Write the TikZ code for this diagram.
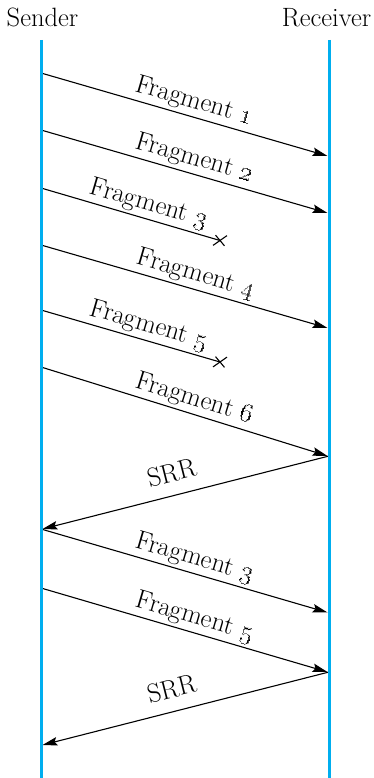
\RequirePackage{fix-cm}
\documentclass[tikz,border=0pt]{standalone}
\usetikzlibrary{arrows.meta}
\definecolor{lifeblue}{RGB}{0,174,239}
\newcommand{\osn}[1]{\oldstylenums{#1}}
\begin{document}
\begin{tikzpicture}[x=1pt,y=-1pt,
  font=\fontsize{26.5}{31}\selectfont,
  lifeline/.style={draw=lifeblue,line width=3pt},
  msg/.style={draw=black,line width=1.1pt,-{Stealth[length=15pt,width=8.5pt,inset=2.5pt]}},
  lostmsg/.style={draw=black,line width=1.1pt},
  fraglabel/.style={sloped,above=2.6pt,inner sep=0pt},
  srrlabel/.style={sloped,above=12.5pt,inner sep=0pt},
  crossmark/.style={draw=black,line width=1.1pt}]
\useasboundingbox (0,0) rectangle (374,778);

% station names
\node[anchor=base] (snd) at (42.5,27) {Sender};
\node[anchor=base] (rcv) at (326.5,27) {Receiver};

% lifeline end points
\coordinate (stop) at (41,40);   \coordinate (sbot) at (41,778);
\coordinate (rtop) at (329,40);  \coordinate (rbot) at (329,778);

% message end points (sender side / receiver side)
\coordinate (s1) at (41,73);    \coordinate (r1) at (327.5,156);
\coordinate (s2) at (41,130);   \coordinate (r2) at (327.5,213);
\coordinate (s3) at (41,188);   \coordinate (l3) at (220,240.5);
\coordinate (s4) at (41,245);   \coordinate (r4) at (327.5,328);
\coordinate (s5) at (41,310);   \coordinate (l5) at (220,362);
\coordinate (s6) at (41,367);   \coordinate (r6) at (327.5,456);
\coordinate (q1) at (329,456);  \coordinate (a1) at (42.5,529);
\coordinate (s7) at (41,529);   \coordinate (r7) at (327.5,612.5);
\coordinate (s8) at (41,588);   \coordinate (r8) at (327.5,672);
\coordinate (q2) at (329,672);  \coordinate (a2) at (42.5,745);

% fragments
\draw[msg] (s1) -- node[fraglabel,pos=0.52] (t1) {Fragment \osn{1}} (r1);
\draw[msg] (s2) -- node[fraglabel,pos=0.52] (t2) {Fragment \osn{2}} (r2);
\draw[lostmsg] (s3) -- node[fraglabel,pos=0.58] (t3) {Fragment \osn{3}} (l3);
\draw[msg] (s4) -- node[fraglabel,pos=0.526] (t4) {Fragment \osn{4}} (r4);
\draw[lostmsg] (s5) -- node[fraglabel,pos=0.58] (t5) {Fragment \osn{5}} (l5);
\draw[msg] (s6) -- node[fraglabel,pos=0.52] (t6) {Fragment \osn{6}} (r6);
\draw[msg] (q1) -- node[srrlabel,pos=0.53] (t7) {SRR} (a1);
\draw[msg] (s7) -- node[fraglabel,pos=0.522] (t8) {Fragment \osn{3}} (r7);
\draw[msg] (s8) -- node[fraglabel,pos=0.522] (t9) {Fragment \osn{5}} (r8);
\draw[msg] (q2) -- node[srrlabel,pos=0.53] (t10) {SRR} (a2);

% lost fragments end in a cross (y axis points down, so angles are mirrored)
\foreach \c in {l3,l5}{
  \draw[crossmark] (\c) ++(-35:8.5) -- ++(145:17);
  \draw[crossmark] (\c) ++(50:7) -- ++(230:14);
}

% lifelines
\draw[lifeline] (stop) -- (sbot);
\draw[lifeline] (rtop) -- (rbot);
\end{tikzpicture}
\end{document}
